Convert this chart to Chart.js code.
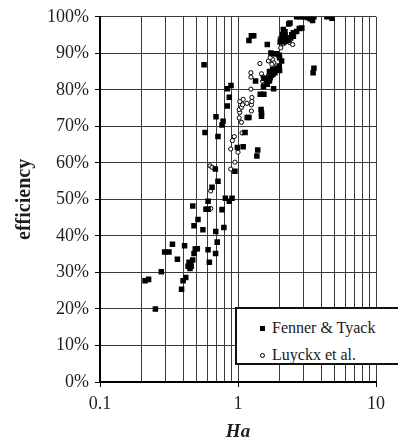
<!DOCTYPE html>
<html>
<head>
<meta charset="utf-8">
<script src="https://cdn.jsdelivr.net/npm/chart.js@4/dist/chart.umd.min.js"></script>
<style>
  html, body { margin: 0; padding: 0; background: #fff; }
  #wrap { position: relative; width: 398px; height: 444px; overflow: hidden; }
  #legend {
    position: absolute; left: 235px; top: 307px; width: 170px; height: 54px;
    border: 2px solid #111; background: #fff;
    font-family: "Liberation Serif", Tinos, "Times New Roman", "DejaVu Serif", serif;
    font-size: 16px; color: #1a1a1a;
  }
  .row { position: absolute; left: 0; height: 20px; line-height: 20px; white-space: nowrap; }
  .row .txt { position: absolute; left: 35px; top: 0; }
  .sq { position: absolute; left: 23px; top: 8px; width: 5px; height: 5px; background: #000; }
  .ci { position: absolute; left: 23px; top: 8px; width: 3px; height: 3px; border: 1px solid #000; border-radius: 50%; background: #fff; }
</style>
</head>
<body>
<div id="wrap">
  <canvas id="c" width="398" height="444"></canvas>
  <div id="legend">
    <div class="row" style="top:9px"><span class="sq"></span><span class="txt">Fenner &amp; Tyack</span></div>
    <div class="row" style="top:36px"><span class="ci"></span><span class="txt">Luyckx et al.</span></div>
  </div>
</div>
<script>
// Hatta number (Ha) vs. efficiency (%)
const fennerHa = [
  0.212, 0.225, 0.252, 0.278, 0.294, 0.316, 0.335, 0.364, 0.39, 0.40,
  0.418, 0.41, 0.442, 0.454, 0.435, 0.449, 0.458, 0.47, 0.48, 0.507,
  0.607, 0.62, 0.688, 0.707, 0.47, 0.513, 0.48, 0.557, 0.69, 0.79,
  0.766, 0.586, 0.607, 0.607, 0.81, 0.905, 0.865, 0.648, 0.716, 0.685,
  0.95, 0.99, 1.09, 1.39, 1.37, 1.125, 1.166, 1.20, 0.577, 0.716,
  0.693, 0.78, 0.766, 0.836, 0.865, 0.836, 0.89, 0.568, 1.20, 1.25,
  1.30, 1.63, 1.45, 1.54, 1.81, 1.47, 1.48, 1.48, 1.34, 1.54,
  1.61, 1.63, 1.53, 1.67, 1.71, 1.69, 1.78, 1.79, 1.85, 1.99,
  1.90, 2.00, 1.90, 1.99, 2.00, 2.07, 1.73, 1.80, 2.13, 2.19,
  2.11, 2.19, 2.13, 2.25, 2.07, 2.02, 2.19, 2.31, 2.41, 2.52,
  2.66, 2.52, 2.45, 2.78, 2.90, 2.38, 2.33, 2.66, 2.81, 2.97,
  3.18, 3.33, 3.47, 3.55, 4.41, 4.80, 3.55, 3.50, 0.49, 1.69,
  1.75
];
const fennerEff = [
  27.7, 28.1, 20.0, 30.2, 35.6, 35.6, 37.7, 33.6, 25.4, 27.7,
  28.6, 37.3, 32.8, 32.3, 31.7, 31.1, 31.7, 33.4, 35.2, 36.5,
  36.2, 32.8, 35.2, 38.3, 48.2, 44.5, 42.8, 41.7, 41.2, 42.3,
  47.2, 47.3, 47.3, 49.5, 50.3, 50.3, 49.5, 53.3, 55.0, 58.3,
  57.7, 64.2, 64.4, 63.5, 61.9, 68.3, 72.4, 72.4, 68.3, 67.2,
  72.6, 71.4, 70.4, 75.6, 78.0, 80.3, 81.2, 86.9, 93.5, 94.8,
  94.8, 92.4, 78.8, 78.8, 80.3, 74.6, 73.6, 72.8, 82.4, 83.2,
  82.6, 81.5, 80.9, 83.5, 83.3, 82.4, 85.6, 84.3, 84.7, 86.5,
  85.9, 85.3, 89.9, 89.5, 88.8, 87.9, 90.1, 89.9, 96.5, 95.9,
  95.1, 95.0, 94.2, 94.2, 93.8, 93.1, 93.3, 93.5, 94.2, 94.7,
  96.0, 95.6, 95.1, 96.8, 96.9, 98.3, 98.0, 100, 100, 100,
  99.8, 99.5, 99.0, 100, 100, 99.6, 85.9, 84.7, 36.4, 85.0,
  84.0
];
const luyckxHa = [
  0.634, 0.634, 0.627, 0.65, 0.886, 0.95, 1.00, 0.886, 0.91, 0.94,
  1.07, 1.02, 1.06, 1.03, 1.02, 1.06, 1.08, 1.03, 1.09, 1.16,
  1.25, 1.25, 1.26, 1.26, 1.24, 1.24, 1.24, 1.44, 1.48, 1.52,
  1.51, 1.54, 1.66, 1.78, 1.82, 1.76, 1.71, 2.07, 2.13, 2.19,
  2.38, 2.49, 2.04, 2.02
];
const luyckxEff = [
  47.5, 52.3, 59.2, 58.8, 58.3, 60.2, 62.9, 63.8, 66.1, 67.2,
  68.2, 72.3, 71.1, 73.8, 74.6, 75.2, 75.9, 76.8, 77.4, 76.3,
  75.9, 74.2, 77.9, 76.8, 80.2, 84.7, 83.5, 87.2, 84.4, 83.5,
  82.4, 81.3, 87.9, 88.3, 87.4, 87.0, 88.8, 93.1, 92.6, 92.9,
  92.9, 92.4, 91.5, 94.2
];
const xTickValues = [0.1, 0.2, 0.3, 0.4, 0.5, 0.6, 0.7, 0.8, 0.9,
                     1, 2, 3, 4, 5, 6, 7, 8, 9, 10];
const xLabelled = [0.1, 1, 10];

const pairs = (xs, ys) => xs.map((x, i) => ({ x: x, y: ys[i] }));

const SERIF = '"Liberation Serif", Tinos, "Times New Roman", "DejaVu Serif", serif';
const GRID = '#3a3a3a';
const INK = '#1e1e1e';

new Chart(document.getElementById('c'), {
  type: 'scatter',
  data: {
    datasets: [
      {
        label: 'Fenner & Tyack',
        data: pairs(fennerHa, fennerEff),
        pointStyle: 'rect',
        pointRadius: 3.9,
        backgroundColor: '#000',
        borderColor: '#000',
        borderWidth: 0
      },
      {
        label: 'Luyckx et al.',
        data: pairs(luyckxHa, luyckxEff),
        pointStyle: 'circle',
        pointRadius: 2.1,
        backgroundColor: '#fff',
        borderColor: '#000',
        borderWidth: 1
      }
    ]
  },
  options: {
    responsive: false,
    animation: false,
    devicePixelRatio: 1,
    layout: { padding: { top: 15, right: 22, bottom: 0, left: 0 } },
    plugins: { legend: { display: false }, tooltip: { enabled: false } },
    scales: {
      x: {
        type: 'logarithmic',
        min: 0.1,
        max: 10,
        afterBuildTicks: (scale) => { scale.ticks = xTickValues.map(v => ({ value: v })); },
        afterFit: (scale) => { scale.height = 62; },
        ticks: {
          autoSkip: false,
          maxRotation: 0,
          padding: 6,
          color: INK,
          font: { family: SERIF, size: 18 },
          callback: (v) => xLabelled.includes(v) ? String(v) : ''
        },
        grid: {
          color: GRID,
          lineWidth: 1,
          tickLength: 5,
          tickColor: (ctx) => (ctx.tick && xLabelled.includes(ctx.tick.value)) ? '#000' : 'rgba(0,0,0,0)'
        },
        border: { display: true, color: '#000', width: 2 },
        title: {
          display: true,
          text: 'Ha',
          color: INK,
          font: { family: SERIF, size: 19, weight: 'bold', style: 'italic' },
          padding: { top: 0, bottom: 1 }
        }
      },
      y: {
        min: 0,
        max: 100,
        afterFit: (scale) => { scale.width = 100; },
        ticks: {
          stepSize: 10,
          padding: 6,
          color: INK,
          font: { family: SERIF, size: 18 },
          callback: (v) => v + '%'
        },
        grid: { color: GRID, lineWidth: 1, tickLength: 5, tickColor: '#000' },
        border: { display: true, color: '#000', width: 2 },
        title: {
          display: true,
          text: 'efficiency',
          color: INK,
          font: { family: SERIF, size: 20, weight: 'bold' },
          padding: { top: 13, bottom: 0 }
        }
      }
    }
  }
});
</script>
</body>
</html>
